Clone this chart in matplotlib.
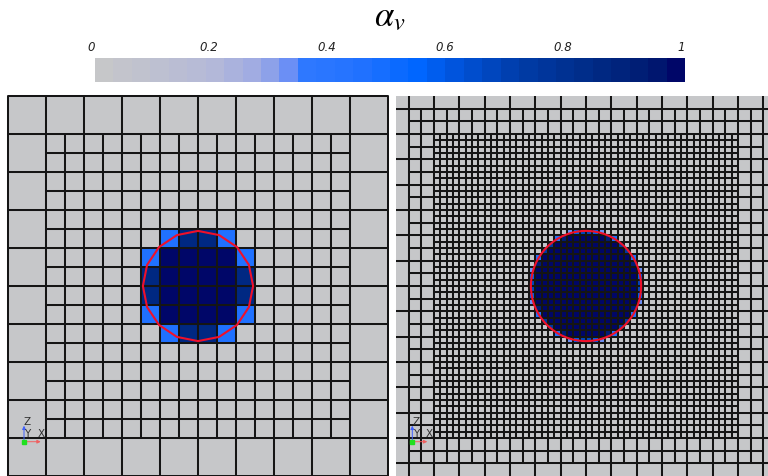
import matplotlib
matplotlib.use("Agg")
import numpy as np
import matplotlib.pyplot as plt
from matplotlib.colors import LinearSegmentedColormap, ListedColormap, Normalize
from matplotlib.collections import PatchCollection
from matplotlib.patches import Rectangle, Circle, RegularPolygon
from matplotlib.cm import ScalarMappable
import matplotlib.transforms as mtransforms

plt.rcParams["mathtext.fontset"] = "stix"

# ---- colour bar -----------------------------------------------------------
cbar_ticks = [0.0, 0.2, 0.4, 0.6, 0.8, 1.0]
cbar_ticklabels = ["0", "0.2", "0.4", "0.6", "0.8", "1"]
cmap_positions = [0.0, 0.20, 0.27, 0.30, 0.33, 0.36, 0.45, 0.55, 0.62, 0.72, 0.85, 0.95, 1.0]
cmap_colors = ["#C8C8C8", "#B4B9D8", "#A0ABE2", "#8CA0EA", "#6A8FF5", "#2E78FF",
               "#2272FF", "#0066FF", "#0052D8", "#003CA8", "#002A85", "#001A70", "#000066"]
n_bands = 32

# ---- geometry -------------------------------------------------------------
bubble_radius = 1.45
view_half = 5.0
# left mesh: 10 x 10 base cells, one refinement level
left_base_size = 1.0
left_base_cells = 10
left_refine_half = [4.0]
# right mesh: finer base grid, two refinement levels
right_base_size = 2.0 / 3.0
right_base_cells = 16
right_refine_half = [14.0 / 3.0, 4.0]

W, H = 768, 476
fig = plt.figure(figsize=(W / 100, H / 100), dpi=100)


def rect(x0, y0, x1, y1):
    return [x0 / W, 1 - y1 / H, (x1 - x0) / W, (y1 - y0) / H]


base = LinearSegmentedColormap.from_list("alpha_v", list(zip(cmap_positions, cmap_colors)))
cmap = ListedColormap(base((np.arange(n_bands) + 0.5) / n_bands))
norm = Normalize(0.0, 1.0)


def build_mesh(h0, ncell, halves):
    start = -ncell * h0 / 2
    cells = [(start + i * h0, start + j * h0, h0) for i in range(ncell) for j in range(ncell)]
    eps = 1e-9
    for hw in halves:
        new = []
        for (x, y, s) in cells:
            if x >= -hw - eps and x + s <= hw + eps and y >= -hw - eps and y + s <= hw + eps:
                q = s / 2
                new += [(x, y, q), (x + q, y, q), (x, y + q, q), (x + q, y + q, q)]
            else:
                new.append((x, y, s))
        cells = new
    return cells


def fraction(x, y, s, r, n=24):
    # volume fraction of the bubble inside a square cell (midpoint sampling)
    if (max(abs(x), abs(x + s)) ** 2 + max(abs(y), abs(y + s)) ** 2) <= r * r:
        return 1.0
    nx = min(abs(x), abs(x + s)) if x * (x + s) > 0 else 0.0
    ny = min(abs(y), abs(y + s)) if y * (y + s) > 0 else 0.0
    if nx * nx + ny * ny >= r * r:
        return 0.0
    t = (np.arange(n) + 0.5) / n * s
    X, Y = np.meshgrid(x + t, y + t)
    return float(np.mean(X ** 2 + Y ** 2 <= r * r))


def draw_panel(ax, cells, clip):
    patches = [Rectangle((x, y), s, s) for (x, y, s) in cells]
    vals = np.array([fraction(x, y, s, bubble_radius) for (x, y, s) in cells])
    pc = PatchCollection(patches, cmap=cmap, norm=norm, edgecolor="#151515", linewidth=1.45)
    pc.set_array(vals)
    pc.set_clip_on(clip)
    ax.add_collection(pc)
    ax.set_xlim(-view_half, view_half)
    ax.set_ylim(-view_half, view_half)
    ax.set_aspect("equal")
    ax.axis("off")


def draw_triad(ax, ox, oy, zx, zy, yx, yy, xx, xy, xtip):
    o = (ox, H - oy)
    ax.annotate("", xy=(ox, H - (oy - 16)), xytext=o, xycoords="figure pixels",
                arrowprops=dict(arrowstyle="-|>", color="#4060ff", lw=0.7, mutation_scale=5,
                                shrinkA=0, shrinkB=0), annotation_clip=False)
    ax.annotate("", xy=(xtip, H - oy), xytext=o, xycoords="figure pixels",
                arrowprops=dict(arrowstyle="-|>", color="#f06060", lw=0.7, mutation_scale=5,
                                shrinkA=0, shrinkB=0), annotation_clip=False)
    fig.add_artist(plt.Line2D([ox / W], [1 - oy / H], marker="s", ms=2.5, color="#20e020",
                              transform=fig.transFigure))
    for lab, (lx, ly) in zip("ZYX", [(zx, zy), (yx, yy), (xx, xy)]):
        ax.annotate(lab, xy=(lx, H - ly), xycoords="figure pixels", ha="center", va="center",
                    fontsize=7.5, color="#303030", annotation_clip=False)


# left panel
axL = fig.add_axes(rect(8, 96, 388, 476))
draw_panel(axL, build_mesh(left_base_size, left_base_cells, left_refine_half), clip=False)
axL.add_patch(RegularPolygon((0, 0), 16, radius=bubble_radius, fill=False,
                             edgecolor="#f0102a", linewidth=1.5, zorder=5))
draw_triad(axL, 24, 441.7, 26.7, 421.7, 26.7, 434, 41.7, 434, 40.7)

# right panel (extends past the right border of the figure)
axR = fig.add_axes(rect(396, 96, 776, 476))
draw_panel(axR, build_mesh(right_base_size, right_base_cells, right_refine_half), clip=True)
axR.add_patch(Circle((0, 0), bubble_radius, fill=False, edgecolor="#f0102a",
                     linewidth=1.5, zorder=5))
draw_triad(axR, 412.3, 441.7, 415.7, 421.7, 415.7, 434.3, 429.3, 434.3, 427.3)

# colour bar
cax = fig.add_axes(rect(95, 58, 685, 82))
cb = fig.colorbar(ScalarMappable(norm=norm, cmap=cmap), cax=cax, orientation="horizontal")
cb.outline.set_visible(False)
cb.set_ticks(cbar_ticks)
cb.set_ticklabels(cbar_ticklabels)
cax.xaxis.set_ticks_position("top")
cax.tick_params(axis="x", length=0, pad=3)
shift = mtransforms.ScaledTranslation(-4 / 100, 0, fig.dpi_scale_trans)
for lab in cax.get_xticklabels():
    lab.set_fontstyle("italic")
    lab.set_fontsize(8.5)
    lab.set_color("#202020")
    lab.set_transform(lab.get_transform() + shift)

fig.text(390 / W, 1 - 26 / H, r"$\alpha_v$", ha="center", va="baseline", fontsize=25)

fig.savefig("out.png", dpi=100)
